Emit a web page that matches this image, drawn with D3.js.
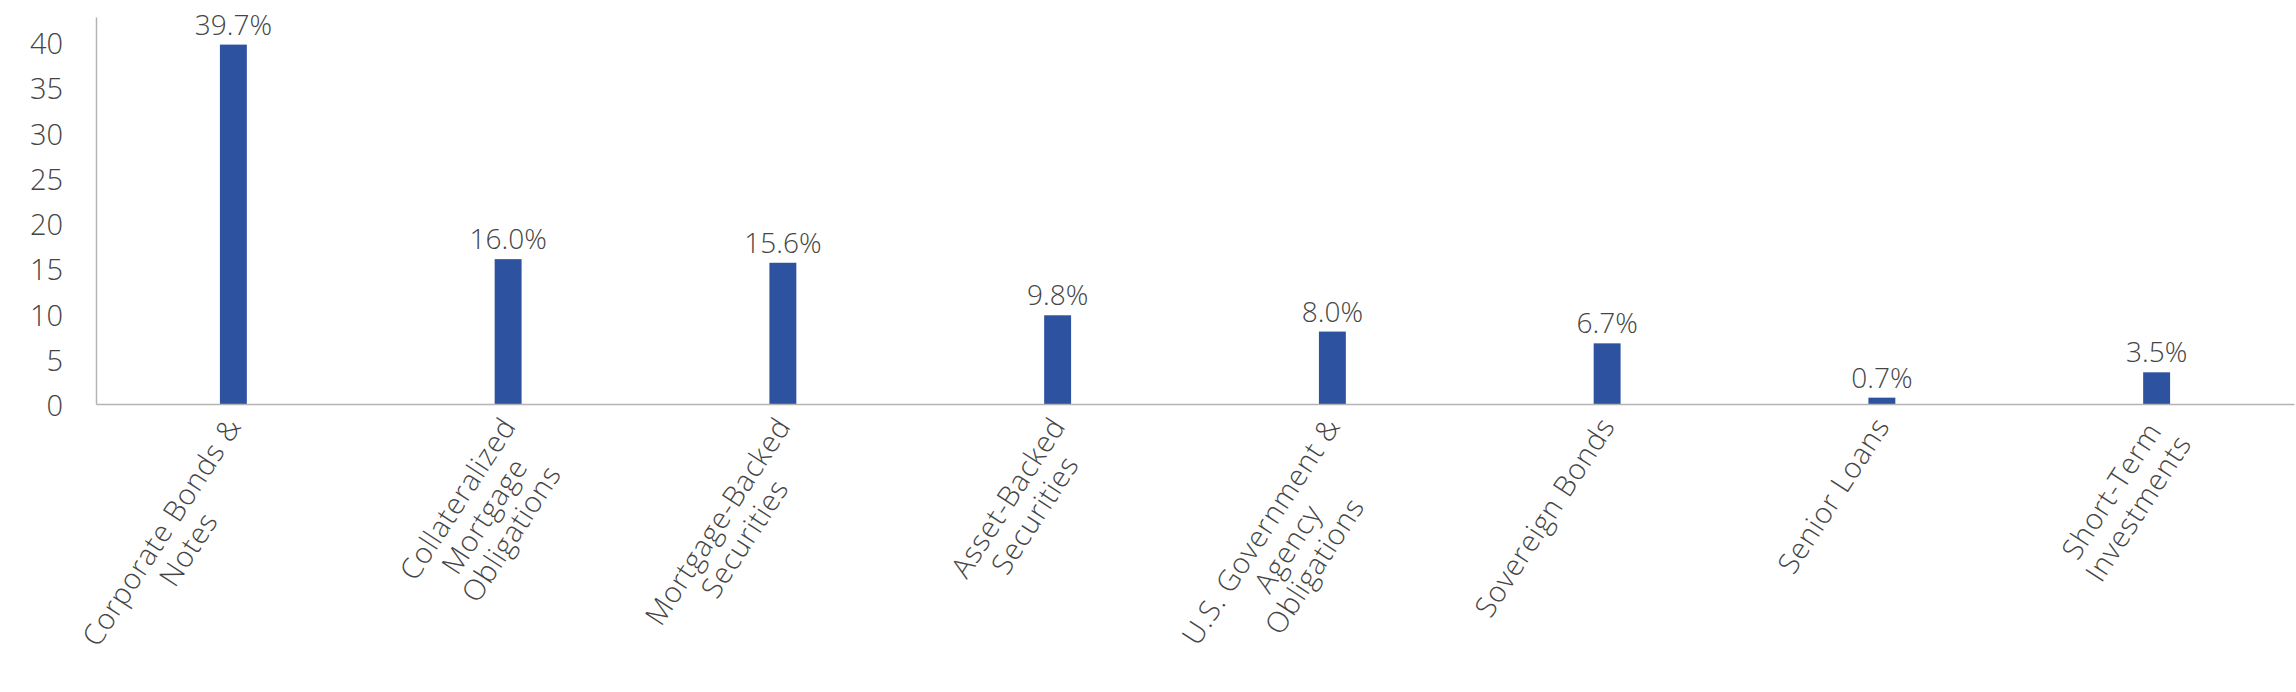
<!DOCTYPE html>
<html>
<head>
<meta charset="utf-8">
<script src="https://cdn.jsdelivr.net/npm/d3@7"></script>
<style>
    body { margin: 0; background: #fff; }
    svg text { font-family: "Open Sans", Lato, sans-serif; font-weight: 300; fill: #454545; }
</style>
</head>
<body>
<svg id="chart"></svg>
<script>
// chart values
const categories = [
    "Corporate Bonds &\nNotes",
    "Collateralized\nMortgage\nObligations",
    "Mortgage-Backed\nSecurities",
    "Asset-Backed\nSecurities",
    "U.S. Government &\nAgency\nObligations",
    "Sovereign Bonds",
    "Senior Loans",
    "Short-Term\nInvestments"
];
const values = [39.7, 16.0, 15.6, 9.8, 8.0, 6.7, 0.7, 3.5];
const valueLabels = ["39.7%", "16.0%", "15.6%", "9.8%", "8.0%", "6.7%", "0.7%", "3.5%"];
const yTicks = [0, 5, 10, 15, 20, 25, 30, 35, 40];

class BarChart {
    constructor(_config) {
        this.config = {
            parentElement: _config.parentElement,
            containerWidth: _config.containerWidth || 2296,
            containerHeight: _config.containerHeight || 692,
            margin: _config.margin || {top: 17, right: 2, bottom: 288, left: 96},
            fontSize: _config.fontSize || 28
        };
        this.initVis();
    }

    initVis() {
        let vis = this;
        vis.width = vis.config.containerWidth - vis.config.margin.left - vis.config.margin.right;
        vis.height = vis.config.containerHeight - vis.config.margin.top - vis.config.margin.bottom;

        vis.svg = d3.select(vis.config.parentElement)
            .attr('width', vis.config.containerWidth)
            .attr('height', vis.config.containerHeight);

        vis.chart = vis.svg.append('g')
            .attr('transform', `translate(${vis.config.margin.left},${vis.config.margin.top})`);

        vis.xScale = d3.scaleBand()
            .domain(categories)
            .range([0, vis.width])
            .paddingInner(0.902)
            .paddingOuter(0.451);

        // axis max sits a little above 40
        vis.yScale = d3.scaleLinear()
            .domain([0, 42.75])
            .range([vis.height, 0]);

        vis.renderVis();
    }

    renderVis() {
        let vis = this;
        const fs = vis.config.fontSize;

        // y axis: line + labels, no tick marks
        const yAxis = d3.axisLeft(vis.yScale)
            .tickValues(yTicks)
            .tickSize(0)
            .tickPadding(33)
            .tickFormat(d3.format('d'));
        const yAxisG = vis.chart.append('g').call(yAxis);
        yAxisG.select('.domain').attr('stroke', '#b4b4b4').attr('stroke-width', 1.5);
        yAxisG.selectAll('text')
            .attr('font-size', fs + 1)
            .attr('font-family', null)
            .attr('dy', '0.4em');

        // bars
        vis.chart.selectAll('.bar')
            .data(values)
            .join('rect')
            .attr('class', 'bar')
            .attr('x', (d, i) => vis.xScale(categories[i]))
            .attr('width', vis.xScale.bandwidth())
            .attr('y', d => vis.yScale(d))
            .attr('height', d => vis.height - vis.yScale(d))
            .attr('fill', '#2c52a0');

        // x axis line
        const xAxis = d3.axisBottom(vis.xScale).tickSize(0).tickFormat('');
        const xAxisG = vis.chart.append('g')
            .attr('transform', `translate(0,${vis.height})`)
            .call(xAxis);
        xAxisG.select('.domain').attr('stroke', '#b4b4b4').attr('stroke-width', 1.5);

        // value labels
        vis.chart.selectAll('.val')
            .data(values)
            .join('text')
            .attr('class', 'val')
            .attr('x', (d, i) => vis.xScale(categories[i]) + vis.xScale.bandwidth() / 2)
            .attr('y', d => vis.yScale(d) - 10)
            .attr('text-anchor', 'middle')
            .attr('font-size', fs)
            .text((d, i) => valueLabels[i]);

        // rotated, centred multi-line category labels
        const lineH = 32;
        const cats = vis.chart.selectAll('.cat')
            .data(categories)
            .join('g')
            .attr('class', 'cat')
            .attr('transform', d => `translate(${vis.xScale(d) + vis.xScale.bandwidth() / 2 + 9},${vis.height + 22}) rotate(-57)`);

        cats.each(function(d) {
            const g = d3.select(this);
            const lines = d.split('\n');
            const texts = lines.map((l, i) => g.append('text')
                .attr('font-size', fs + 1)
                .attr('letter-spacing', 0.8)
                .attr('text-anchor', 'middle')
                .attr('y', i * lineH)
                .text(l));
            const maxW = d3.max(texts, t => t.node().getComputedTextLength());
            texts.forEach(t => t.attr('x', -maxW / 2));
        });
    }
}

new BarChart({parentElement: '#chart'});
</script>
</body>
</html>
